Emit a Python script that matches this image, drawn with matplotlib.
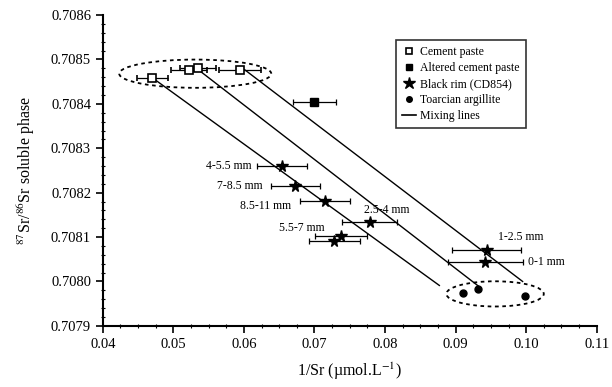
import matplotlib
matplotlib.use("Agg")
import matplotlib.pyplot as plt
from matplotlib.patches import Ellipse
from matplotlib.ticker import MultipleLocator, FormatStrFormatter
from matplotlib.lines import Line2D

plt.rcParams['font.family'] = ['Liberation Serif', 'DejaVu Serif']
plt.rcParams['mathtext.fontset'] = 'stix'

# Cement paste (open squares)
cement_x = [0.0470, 0.0522, 0.0535, 0.0594]
cement_y = [0.708459, 0.708477, 0.708481, 0.708477]
cement_xerr = [0.0022, 0.0025, 0.0025, 0.0030]

# Altered cement paste (filled square)
altered_x = [0.0700]
altered_y = [0.708405]
altered_xerr = [0.0030]

# Black rim (CD854) stars
rim_labels = ["4-5.5 mm", "7-8.5 mm", "8.5-11 mm", "2.5-4 mm", "5.5-7 mm", "", "1-2.5 mm", "0-1 mm"]
rim_x = [0.0654, 0.0673, 0.0715, 0.0778, 0.0738, 0.0728, 0.0944, 0.0942]
rim_y = [0.708259, 0.708214, 0.708182, 0.708134, 0.708102, 0.708091, 0.708070, 0.708043]
rim_xerr = [0.0035, 0.0035, 0.0035, 0.0039, 0.0037, 0.0036, 0.0049, 0.0053]

# Toarcian argillite (filled circles)
toar_x = [0.0910, 0.0932, 0.0998]
toar_y = [0.707975, 0.707984, 0.707968]

# Mixing lines (start, end)
mix_x = [[0.0470, 0.0877], [0.0532, 0.0932], [0.0601, 0.0995]]
mix_y = [[0.708459, 0.707991], [0.708481, 0.707990], [0.708477, 0.708000]]

fig = plt.figure(figsize=(6.12, 3.87), dpi=100)
ax = fig.add_axes([0.168, 0.158, 0.807, 0.803])

for mx, my in zip(mix_x, mix_y):
    ax.plot(mx, my, color='black', lw=1.0, zorder=2)

eb_kw = dict(ecolor='black', elinewidth=0.9, capsize=2, capthick=0.9, ls='none', zorder=3)
ax.errorbar(cement_x, cement_y, xerr=cement_xerr, fmt='s', mfc='white', mec='black',
            ms=6, mew=1.2, **eb_kw)
ax.errorbar(altered_x, altered_y, xerr=altered_xerr, fmt='s', mfc='black', mec='black',
            ms=6, **eb_kw)
ax.errorbar(rim_x, rim_y, xerr=rim_xerr, fmt='*', mfc='black', mec='black', ms=8.5, **eb_kw)
ax.plot(toar_x, toar_y, 'o', color='black', ms=5, ls='none', zorder=4)

# Dashed ellipses
ax.add_patch(Ellipse((0.0531, 0.708468), 0.02155, 0.0000636, fill=False, ls=(0, (2, 2)),
                     lw=1.3, ec='black', zorder=2))
ax.add_patch(Ellipse((0.0956, 0.707972), 0.0138, 0.0000568, fill=False, ls=(0, (2, 2)),
                     lw=1.3, ec='black', zorder=2))

# Labels for black rim points
label_pos = {
    "4-5.5 mm": (0.0611, 0.708259, 'right'),
    "7-8.5 mm": (0.0627, 0.708214, 'right'),
    "8.5-11 mm": (0.0667, 0.708170, 'right'),
    "5.5-7 mm": (0.0714, 0.708120, 'right'),
    "2.5-4 mm": (0.0770, 0.708160, 'left'),
    "1-2.5 mm": (0.0960, 0.708100, 'left'),
    "0-1 mm": (0.1003, 0.708043, 'left'),
}
for lab, (tx, ty, ha) in label_pos.items():
    ax.text(tx, ty, lab, ha=ha, va='center', fontsize=8.5)

ax.set_xlim(0.04, 0.11)
ax.set_ylim(0.7079, 0.7086)
ax.xaxis.set_major_locator(MultipleLocator(0.01))
ax.xaxis.set_minor_locator(MultipleLocator(0.0025))
ax.yaxis.set_major_locator(MultipleLocator(0.0001))
ax.yaxis.set_minor_locator(MultipleLocator(0.00002))
ax.xaxis.set_major_formatter(FormatStrFormatter('%.2f'))
ax.yaxis.set_major_formatter(FormatStrFormatter('%.4f'))
ax.tick_params(axis='both', which='major', direction='out', length=5, width=1.2, labelsize=10.5)
ax.tick_params(axis='both', which='minor', direction='inout', length=3, width=0.8)
ax.spines['top'].set_visible(False)
ax.spines['right'].set_visible(False)
ax.spines['left'].set_linewidth(1.5)
ax.spines['bottom'].set_linewidth(1.5)

ax.set_xlabel('1/Sr (µmol.L$^{-1}$)', fontsize=11.5, labelpad=7)
ax.set_ylabel('$^{87}$Sr/$^{86}$Sr soluble phase', fontsize=11.5, labelpad=10)

handles = [
    Line2D([], [], marker='s', mfc='white', mec='black', mew=1.2, ms=5, ls='none'),
    Line2D([], [], marker='s', color='black', ms=5, ls='none'),
    Line2D([], [], marker='*', color='black', ms=9, ls='none'),
    Line2D([], [], marker='o', color='black', ms=4, ls='none'),
    Line2D([], [], color='black', lw=1.2),
]
labels = ['Cement paste', 'Altered cement paste', 'Black rim (CD854)', 'Toarcian argillite', 'Mixing lines']
leg = ax.legend(handles, labels, loc='upper left', bbox_to_anchor=(0.593, 0.92), fontsize=8.5,
                frameon=True, fancybox=False, edgecolor='black', handlelength=1.2,
                handletextpad=0.4, borderpad=0.5, labelspacing=0.35, borderaxespad=0)
leg.get_frame().set_linewidth(1.2)

fig.savefig('out.png', dpi=100)
